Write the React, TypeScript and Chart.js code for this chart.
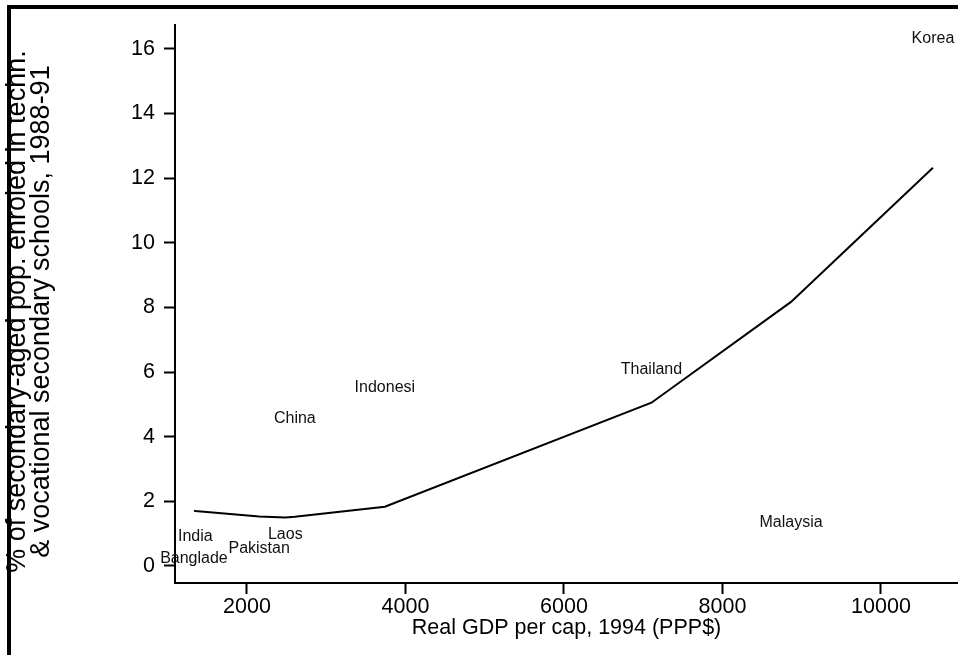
import React, { useEffect, useRef } from 'react';
import { Chart, registerables } from 'chart.js';

Chart.register(...registerables);

// ---- data ----
const countries = ['Banglade', 'India', 'Pakistan', 'Laos', 'China', 'Indonesi', 'Thailand', 'Malaysia', 'Korea'];
const gdpPerCap = [1331, 1348, 2154, 2484, 2604, 3740, 7104, 8865, 10656];
const techEnrol = [0.22, 0.9, 0.54, 0.96, 4.55, 5.52, 6.07, 1.35, 16.32];
const fittedEnrol = [1.71, 1.7, 1.53, 1.5, 1.52, 1.83, 5.05, 8.17, 12.32];
const xTickValues = [2000, 4000, 6000, 8000, 10000];
const yTickValues = [0, 2, 4, 6, 8, 10, 12, 14, 16];
const xRange = [1092, 10972];
const yRange = [-0.53, 16.74];
const xTitle = 'Real GDP per cap, 1994 (PPP$)';
const yTitle = ['% of secondary-aged pop. enroled in techn.  ', '& vocational secondary schools, 1988-91  '];

const FAMILY = '"Liberation Sans", Arial, Helvetica, sans-serif';

const countryLabelPlugin = {
  id: 'countryLabels',
  afterDatasetsDraw(chart: any) {
    const meta = chart.getDatasetMeta(1);
    const ctx = chart.ctx;
    ctx.save();
    ctx.font = `16px ${FAMILY}`;
    ctx.fillStyle = '#111';
    ctx.textAlign = 'center';
    ctx.textBaseline = 'middle';
    meta.data.forEach((pt: any, i: number) => {
      ctx.fillText(countries[i], pt.x, pt.y);
    });
    ctx.restore();
  },
};

const framePlugin = {
  id: 'frame',
  afterDraw(chart: any) {
    const ctx = chart.ctx;
    ctx.save();
    ctx.fillStyle = '#000';
    ctx.fillRect(7, 5, chart.width - 7, 4);
    ctx.fillRect(7, 5, 4, chart.height - 5);
    ctx.restore();
  },
};

export default function App() {
  const canvasRef = useRef<HTMLCanvasElement | null>(null);

  useEffect(() => {
    if (!canvasRef.current) return;
    const chart = new Chart(canvasRef.current, {
      type: 'scatter',
      data: {
        datasets: [
          {
            type: 'line',
            data: gdpPerCap.map((x, i) => ({ x, y: fittedEnrol[i] })),
            borderColor: '#000',
            borderWidth: 2,
            pointRadius: 0,
            tension: 0,
            fill: false,
          } as any,
          {
            type: 'scatter',
            data: gdpPerCap.map((x, i) => ({ x, y: techEnrol[i] })),
            pointRadius: 0,
            showLine: false,
          },
        ],
      },
      options: {
        responsive: false,
        maintainAspectRatio: false,
        animation: false,
        devicePixelRatio: 1,
        layout: { padding: { top: 25, right: 0, bottom: 0, left: 0 } },
        plugins: {
          legend: { display: false },
          tooltip: { enabled: false },
          title: { display: false },
        },
        scales: {
          x: {
            type: 'linear',
            position: 'bottom',
            min: xRange[0],
            max: xRange[1],
            afterBuildTicks: (s: any) => {
              s.ticks = xTickValues.map((v) => ({ value: v }));
            },
            afterFit: (s: any) => {
              s.height = 72;
            },
            ticks: {
              color: '#000',
              font: { family: FAMILY, size: 21.5, lineHeight: 1.2 },
              padding: 0.6,
              maxRotation: 0,
              autoSkip: false,
              callback: (v: any) => String(v),
            },
            grid: {
              display: true,
              drawOnChartArea: false,
              drawTicks: true,
              tickLength: 11,
              tickWidth: 2,
              tickColor: '#000',
              color: '#000',
            },
            border: { display: true, color: '#000', width: 2 },
            title: {
              display: true,
              text: xTitle,
              color: '#000',
              font: { family: FAMILY, size: 21.5, lineHeight: 1.2 },
              padding: { top: 0, bottom: 14.1 },
            },
          },
          y: {
            type: 'linear',
            position: 'left',
            min: yRange[0],
            max: yRange[1],
            afterBuildTicks: (s: any) => {
              s.ticks = yTickValues.map((v) => ({ value: v }));
            },
            afterFit: (s: any) => {
              s.width = 175;
            },
            ticks: {
              color: '#000',
              font: { family: FAMILY, size: 21.5, lineHeight: 1.2 },
              padding: 9,
              autoSkip: false,
              callback: (v: any) => String(v),
            },
            grid: {
              display: true,
              drawOnChartArea: false,
              drawTicks: true,
              tickLength: 11,
              tickWidth: 2,
              tickColor: '#000',
              color: '#000',
            },
            border: { display: true, color: '#000', width: 2 },
            title: {
              display: true,
              text: yTitle,
              color: '#000',
              font: { family: FAMILY, size: 27, lineHeight: 0.88 },
              padding: { top: 5.5, bottom: 0 },
            },
          },
        },
      } as any,
      plugins: [countryLabelPlugin, framePlugin],
    });
    return () => chart.destroy();
  }, []);

  return (
    <div style={{ position: 'absolute', left: 0, top: 0, width: 958, height: 655, background: '#fff' }}>
      <canvas ref={canvasRef} width={958} height={655} style={{ display: 'block' }} />
    </div>
  );
}
